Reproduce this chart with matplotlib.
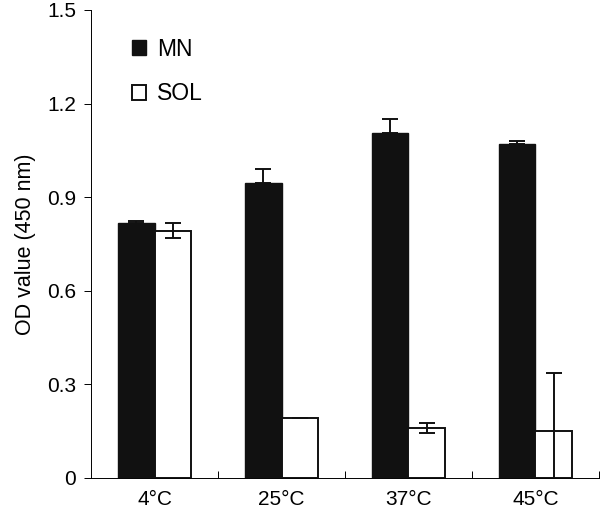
import numpy as np
import matplotlib as mpl
from matplotlib import pyplot as plt

mpl.rcParams['font.family'] = ['Liberation Sans', 'DejaVu Sans']

temps = ["4°C", "25°C", "37°C", "45°C"]
mn = [0.816, 0.945, 1.107, 1.070]
mn_err = [0.006, 0.045, 0.043, 0.011]
sol = [0.792, 0.191, 0.159, 0.152]
sol_err = [0.024, 0.0, 0.016, 0.184]

fig = plt.figure(figsize=(6.0, 5.11), dpi=100)
ax = fig.add_axes([0.152, 0.0646, 0.846, 0.916])

x = np.arange(len(temps))
w = 0.29

ax.bar(x - w/2, mn, w, color='#111111', edgecolor='#111111', linewidth=1.0, label='MN', zorder=2)
ax.bar(x + w/2, sol, w, color='white', edgecolor='#111111', linewidth=1.4, label='SOL', zorder=2)

# MN: upper error only
ax.errorbar(x - w/2, mn, yerr=[np.zeros(len(mn)), mn_err], fmt='none', ecolor='#111111',
            elinewidth=1.4, capsize=6, capthick=1.4, zorder=3)
# SOL: both directions
ax.errorbar(x + w/2, sol, yerr=sol_err, fmt='none', ecolor='#111111',
            elinewidth=1.4, capsize=6, capthick=1.4, zorder=3)

ax.set_xlim(-0.5, 3.5)
ax.set_ylim(0, 1.5)
ax.set_yticks([0, 0.3, 0.6, 0.9, 1.2, 1.5])
ax.set_yticklabels(['0', '0.3', '0.6', '0.9', '1.2', '1.5'], fontsize=15)
ax.tick_params(axis='y', direction='out', length=5, width=0.7, pad=6)

# boundary ticks inward, labels at group centres
ax.set_xticks(x + 0.5)
ax.set_xticklabels([])
ax.tick_params(axis='x', which='major', direction='in', length=5, width=0.7)
ax.set_xticks(x, minor=True)
ax.set_xticklabels(temps, minor=True, fontsize=15)
ax.tick_params(axis='x', which='minor', length=0, pad=9)

ax.spines['top'].set_visible(False)
ax.spines['right'].set_visible(False)
ax.spines['left'].set_linewidth(0.7)
ax.spines['bottom'].set_linewidth(0.7)

ax.set_ylabel('OD value (450 nm)', fontsize=15.5, labelpad=8)

ax.legend(loc='upper left', bbox_to_anchor=(0.04, 0.985), frameon=False, fontsize=16.5,
          handlelength=0.62, handleheight=0.62, handletextpad=0.45, labelspacing=0.95)

plt.savefig('out.png', dpi=100)
